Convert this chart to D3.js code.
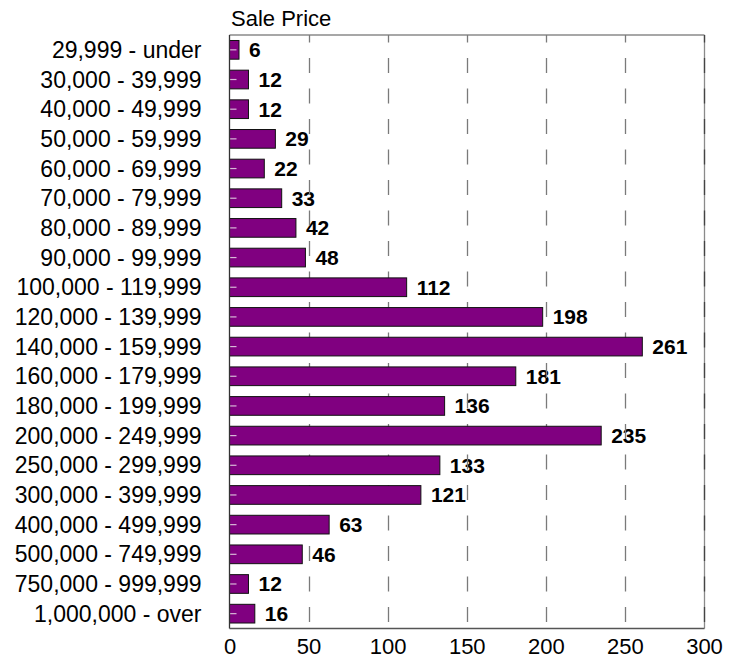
<!DOCTYPE html>
<html><head><meta charset="utf-8">
<script src="https://cdn.jsdelivr.net/npm/d3@7"></script>
<style>html,body{margin:0;padding:0;background:#fff;}svg{display:block;font-family:"Liberation Sans",Arial,sans-serif;}</style>
</head><body>
<svg id="chart" width="736" height="659"></svg>
<script>
const categories = ["29,999 - under","30,000 - 39,999","40,000 - 49,999","50,000 - 59,999","60,000 - 69,999","70,000 - 79,999","80,000 - 89,999","90,000 - 99,999","100,000 - 119,999","120,000 - 139,999","140,000 - 159,999","160,000 - 179,999","180,000 - 199,999","200,000 - 249,999","250,000 - 299,999","300,000 - 399,999","400,000 - 499,999","500,000 - 749,999","750,000 - 999,999","1,000,000 - over"];
const values = [6,12,12,29,22,33,42,48,112,198,261,181,136,235,133,121,63,46,12,16];
const xTicks = [0,50,100,150,200,250,300];
const title = "Sale Price";

const svg = d3.select("#chart");
const L = 229.5, R = 704, T = 35, B = 628.5;
const x = d3.scaleLinear().domain([0,300]).range([L,R]);
const y = d3.scaleBand().domain(categories).range([T,B]).paddingInner(0.37).paddingOuter(0.185);

// title
svg.append("text").attr("x",231).attr("y",26).attr("font-size",22).attr("fill","#000").text(title);

// value labels (under gridlines)
svg.append("g").selectAll("text").data(values).join("text")
  .attr("x",(d)=>x(d)+10)
  .attr("y",(d,i)=>y(categories[i])+y.bandwidth()/2+7.5)
  .attr("font-size",21).attr("font-weight","bold").attr("fill","#000")
  .text(d=>d);

// frame top/right
svg.append("line").attr("x1",L).attr("x2",R+0.5).attr("y1",T).attr("y2",T).attr("stroke","#8a8a8a").attr("stroke-width",1.3);
svg.append("line").attr("x1",R+0.5).attr("x2",R+0.5).attr("y1",T).attr("y2",B).attr("stroke","#8a8a8a").attr("stroke-width",1.3);

// dashed gridlines
svg.append("g").selectAll("line").data(xTicks.filter(t=>t>0)).join("line")
  .attr("x1",d=>Math.round(x(d))+0.5).attr("x2",d=>Math.round(x(d))+0.5)
  .attr("y1",T).attr("y2",B)
  .attr("stroke",d=>d===300?"#444":"#7a7a7a").attr("stroke-width",1.3)
  .attr("stroke-dasharray","15 15.5")
  .attr("stroke-dashoffset",7.6);

// bars
svg.append("g").selectAll("rect").data(values).join("rect")
  .attr("x",x(0)).attr("y",(d,i)=>y(categories[i]))
  .attr("width",d=>x(d)-x(0)).attr("height",y.bandwidth())
  .attr("fill","#800080").attr("stroke","#111").attr("stroke-width",1);

// inner light ticks on bars
svg.append("g").selectAll("line").data(categories).join("line")
  .attr("x1",L).attr("x2",L+7)
  .attr("y1",d=>y(d)+y.bandwidth()/2).attr("y2",d=>y(d)+y.bandwidth()/2)
  .attr("stroke","#d8b8d8").attr("stroke-width",1.2);

// left and bottom axis lines
svg.append("line").attr("x1",L).attr("x2",L).attr("y1",T).attr("y2",B).attr("stroke","#333").attr("stroke-width",1.3);
svg.append("line").attr("x1",L).attr("x2",R+0.5).attr("y1",B).attr("y2",B).attr("stroke","#555").attr("stroke-width",1.3);

// category labels
svg.append("g").selectAll("text").data(categories).join("text")
  .attr("x",201.5).attr("y",d=>y(d)+y.bandwidth()/2+8)
  .attr("text-anchor","end").attr("font-size",23).attr("fill","#000")
  .text(d=>d);

// x tick labels
const xAxis = d3.axisBottom(x).tickValues(xTicks).tickSize(0).tickPadding(0);
const gx = svg.append("g").attr("transform",`translate(0,${B})`).call(xAxis);
gx.select(".domain").remove();
gx.selectAll("text").attr("font-size",22).attr("fill","#000")
  .attr("font-family",'"Liberation Sans",Arial,sans-serif')
  .attr("dy",null).attr("y",25.5);
</script>
</body></html>
